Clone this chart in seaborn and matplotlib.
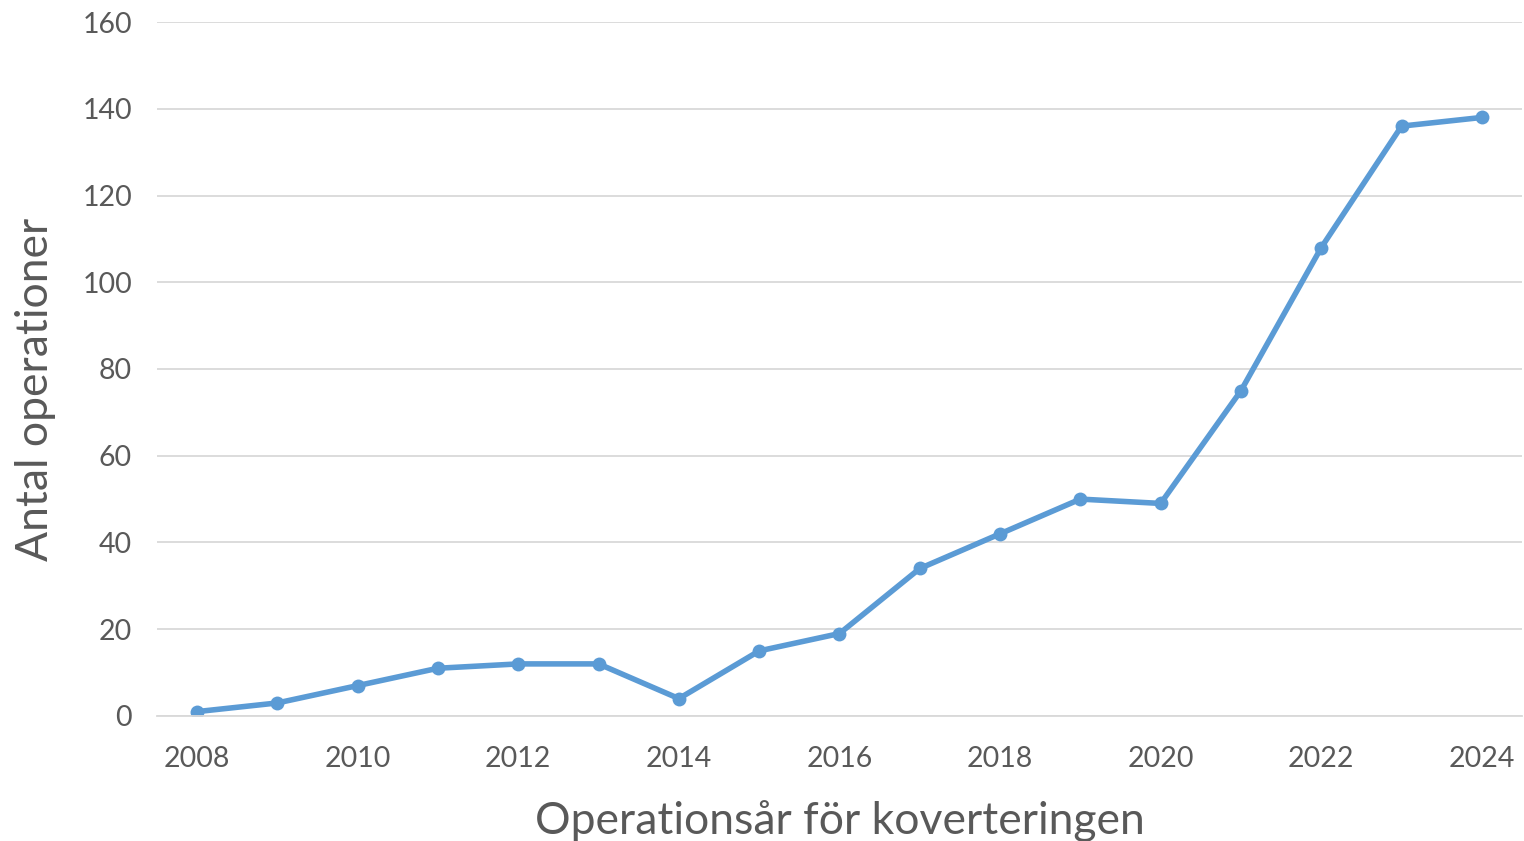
import matplotlib
matplotlib.use("Agg")
import matplotlib.pyplot as plt
import seaborn as sns
import pandas as pd

years = list(range(2008, 2025))
counts = [1, 3, 7, 11, 12, 12, 4, 15, 19, 34, 42, 50, 49, 75, 108, 136, 138]
yticks = [0, 20, 40, 60, 80, 100, 120, 140, 160]
xticks = [2008, 2010, 2012, 2014, 2016, 2018, 2020, 2022, 2024]

sns.set_theme(style="white")
plt.rcParams['font.family'] = ['Lato', 'DejaVu Sans']

df = pd.DataFrame({"year": years, "count": counts})

fig = plt.figure(figsize=(15.24, 8.41), dpi=100)
ax = fig.add_axes([0.103, 0.1487, 0.8957, 0.8251])

sns.lineplot(data=df, x="year", y="count", ax=ax, color="#5B9BD5",
             linewidth=4, marker="o", markersize=10, markeredgewidth=0)

ax.set_xlim(2007.5, 2024.5)
ax.set_ylim(0, 160)
ax.set_yticks(yticks)
ax.set_xticks(xticks)
ax.set_xticklabels([str(x) for x in xticks])
ax.grid(axis="y", color="#D9D9D9", linewidth=1.3)
ax.set_axisbelow(True)
for s in ["top", "right", "left"]:
    ax.spines[s].set_visible(False)
ax.spines["bottom"].set_color("#D9D9D9")
ax.spines["bottom"].set_linewidth(1.3)
ax.tick_params(axis="both", length=0, labelsize=20.5, colors="#595959")
ax.tick_params(axis="x", pad=22)
ax.tick_params(axis="y", pad=18)
ax.set_xlabel("Operationsår för koverteringen", fontsize=32, color="#595959", labelpad=20)
ax.set_ylabel("Antal operationer", fontsize=32, color="#595959")
ax.yaxis.set_label_coords(-0.074, 0.47)

fig.savefig("out.png", dpi=100)
